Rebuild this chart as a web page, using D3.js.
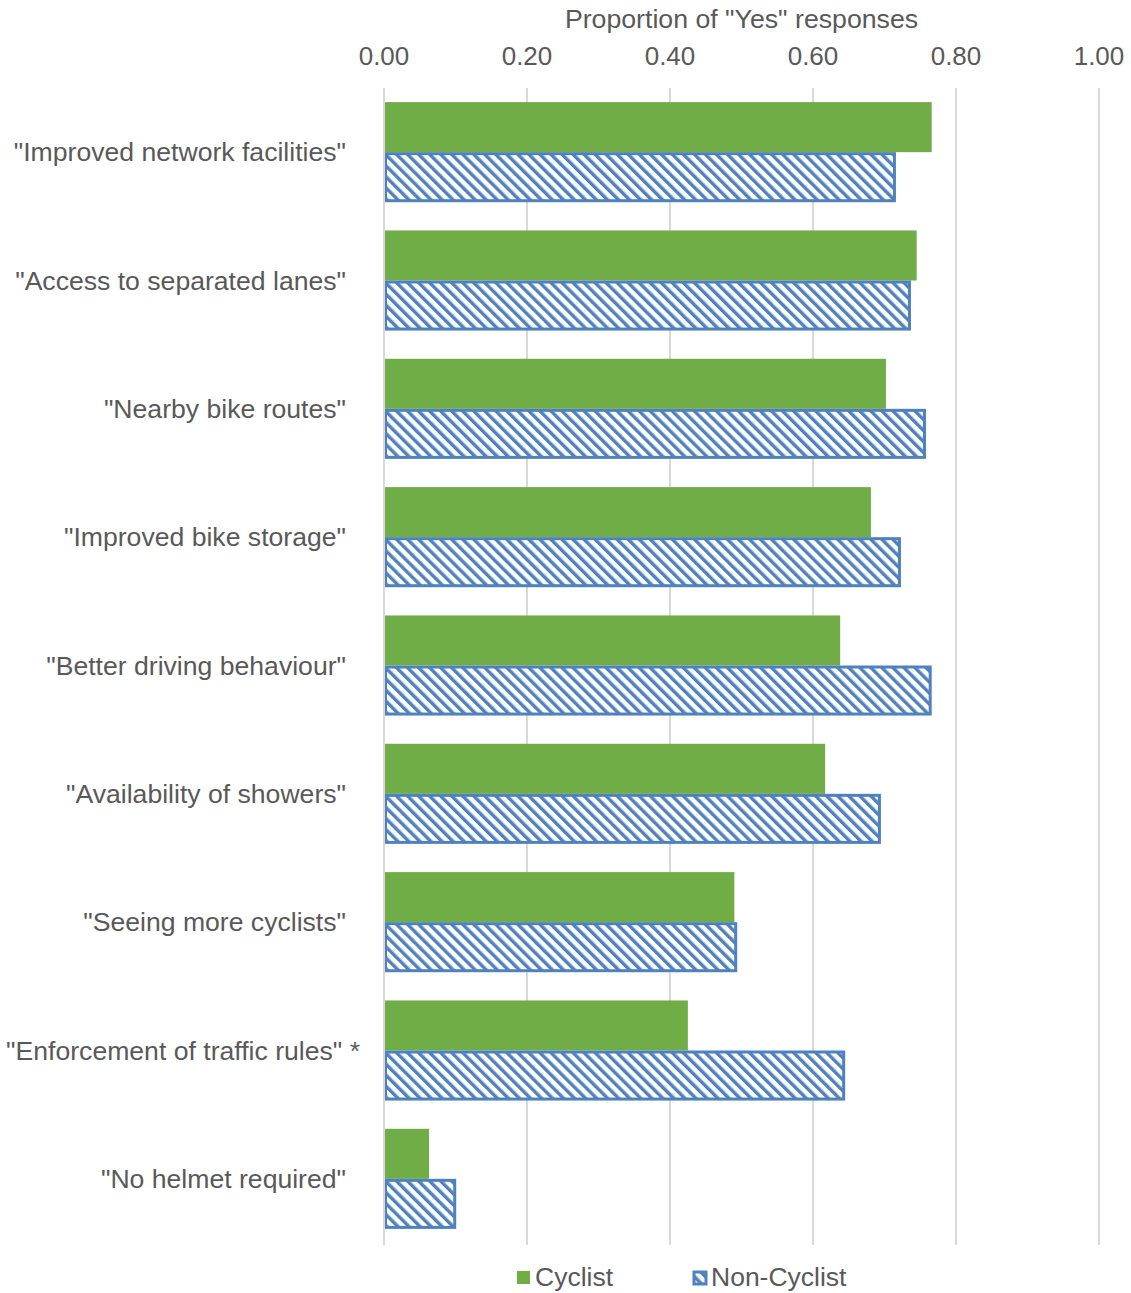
<!DOCTYPE html>
<html>
<head>
<meta charset="utf-8">
<script src="https://cdn.jsdelivr.net/npm/d3@7"></script>
<style>
  body { margin: 0; background: #fff; }
  svg text { font-family: "Liberation Sans", Arial, sans-serif; fill: #595959; }
</style>
</head>
<body>
<div id="container"></div>
<script>
// data
var categories = [
	'"Improved network facilities"',
	'"Access to separated lanes"',
	'"Nearby bike routes"',
	'"Improved bike storage"',
	'"Better driving behaviour"',
	'"Availability of showers"',
	'"Seeing more cyclists"',
	'"Enforcement of traffic rules" *',
	'"No helmet required"'
];
var cyclist    = [0.766, 0.745, 0.702, 0.681, 0.638, 0.617, 0.490, 0.425, 0.063];
var nonCyclist = [0.716, 0.737, 0.758, 0.723, 0.766, 0.695, 0.494, 0.645, 0.101];
var seriesNames = ["Cyclist", "Non-Cyclist"];
var ticks = [0, 0.2, 0.4, 0.6, 0.8, 1.0];

var W = 1131, H = 1293,
	margin = {top: 88, right: 32, bottom: 50, left: 384};

var colGreen = "#70ad47", colBlue = "#4f81bd";

var svg = d3.select("#container").append("svg")
	.attr("width", W).attr("height", H);

var defs = svg.append("defs");
var pat = defs.append("pattern")
	.attr("id", "hatch")
	.attr("patternUnits", "userSpaceOnUse")
	.attr("width", 7.8).attr("height", 7.8)
	.attr("patternTransform", "rotate(-45)");
pat.append("rect").attr("width", 7.8).attr("height", 7.8).attr("fill", "#fff");
pat.append("rect").attr("x", 0).attr("width", 3.4).attr("height", 7.8).attr("fill", colBlue);

var x = d3.scaleLinear().domain([0, 1]).range([margin.left, W - margin.right]);
var y = d3.scaleBand().domain(categories).range([margin.top, H - margin.bottom]).paddingInner(0.22).paddingOuter(0.11);
var y2 = d3.scaleBand().domain(seriesNames).range([0, y.bandwidth()]);

// gridlines
svg.append("g").selectAll("line")
	.data(ticks.slice(1))
	.join("line")
	.attr("x1", d => x(d)).attr("x2", d => x(d))
	.attr("y1", 88).attr("y2", 1245)
	.attr("stroke", "#d9d9d9").attr("stroke-width", 2);

// top axis labels
svg.append("g").selectAll("text")
	.data(ticks)
	.join("text")
	.attr("x", d => x(d)).attr("y", 65)
	.attr("text-anchor", "middle")
	.style("font-size", "26px")
	.text(d => d.toFixed(2));

svg.append("text")
	.attr("x", x(0.5)).attr("y", 28)
	.attr("text-anchor", "middle")
	.style("font-size", "26.7px")
	.text('Proportion of "Yes" responses');

// bars
var grp = svg.append("g").selectAll("g")
	.data(categories)
	.join("g")
	.attr("transform", d => "translate(0," + y(d) + ")");

grp.append("rect")
	.attr("x", x(0)).attr("y", y2("Cyclist"))
	.attr("width", (d, i) => x(cyclist[i]) - x(0))
	.attr("height", y2.bandwidth())
	.attr("fill", colGreen);

grp.append("rect")
	.attr("x", x(0) + 1.5).attr("y", y2("Non-Cyclist") + 1.5)
	.attr("width", (d, i) => x(nonCyclist[i]) - x(0) - 3)
	.attr("height", y2.bandwidth() - 3)
	.attr("fill", "url(#hatch)")
	.attr("stroke", colBlue).attr("stroke-width", 3);

// axis line at 0
svg.append("line")
	.attr("x1", x(0)).attr("x2", x(0))
	.attr("y1", 88).attr("y2", 1245)
	.attr("stroke", "#d9d9d9").attr("stroke-width", 2);

// category labels
svg.append("g").selectAll("text")
	.data(categories)
	.join("text")
	.attr("x", (d, i) => i === 7 ? 360 : 346)
	.attr("y", d => y(d) + y.bandwidth() / 2)
	.attr("dy", "0.35em")
	.attr("text-anchor", "end")
	.style("font-size", "26.6px")
	.text(d => d);

// legend
var lg = svg.append("g");
lg.append("rect").attr("x", 517).attr("y", 1271).attr("width", 13).attr("height", 13).attr("fill", colGreen);
lg.append("text").attr("x", 535).attr("y", 1286).style("font-size", "26.5px").text("Cyclist");
lg.append("rect").attr("x", 694).attr("y", 1272).attr("width", 12).attr("height", 12)
	.attr("fill", "url(#hatch)").attr("stroke", colBlue).attr("stroke-width", 3);
lg.append("text").attr("x", 711).attr("y", 1286).style("font-size", "26.5px").text("Non-Cyclist");
</script>
</body>
</html>
